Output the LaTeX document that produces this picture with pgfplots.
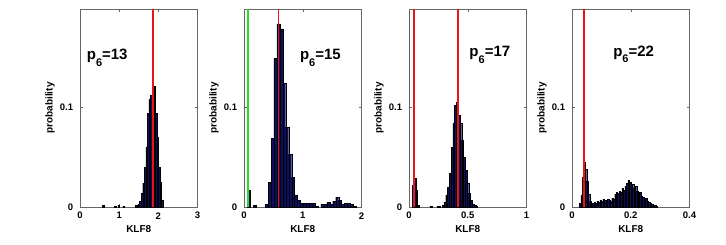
\documentclass[border=0pt]{standalone}
\usepackage{fontspec}
\setmainfont{Liberation Sans}
\usepackage{pgfplots}
\pgfplotsset{compat=1.18}
\definecolor{histfill}{RGB}{15,15,95}
\definecolor{mred}{RGB}{235,20,20}
\definecolor{mgreen}{RGB}{40,220,40}
\pgfplotsset{
  panel/.style={
    scale only axis, width=117.5pt, height=198pt,
    anchor=south west,
    ymin=0, ymax=0.198,
    ytick={0,0.1}, yticklabels={0,0.1},
    tick align=inside, major tick length=3pt,
    axis line style={black!60}, every tick/.style={black!60},
    tick label style={font=\fontsize{9.5}{10}\selectfont\bfseries, inner sep=0pt},
    xticklabel style={anchor=center, yshift=-8.7pt},
    yticklabel style={anchor=east, xshift=-6.7pt},
    label style={font=\fontsize{10}{12}\selectfont\bfseries},
    xlabel={KLF8}, ylabel={probability},
    xlabel style={at={(axis description cs:0.5,-0.111)}, anchor=center},
    ylabel style={at={(axis description cs:-0.255,0.5)}, anchor=center},
  },
  hist/.style={ybar, fill=histfill, draw=black, line width=0.15pt},
  vline/.style={draw=#1, line width=1.6pt, no marks, line cap=butt, forget plot},
}
\tikzset{ann/.style={anchor=base west, inner sep=0pt, font=\fontsize{15}{15}\selectfont\bfseries}}
\newcommand{\psub}[1]{p\raisebox{-6.5pt}{\fontsize{11}{11}\selectfont #1}}
\begin{document}
\begin{tikzpicture}
\useasboundingbox (0pt,0pt) rectangle (726pt,244pt);

% Panel 1
\begin{axis}[panel, at={(80pt,37pt)}, xmin=0, xmax=3, xtick={0,1,2,3}, xticklabels={0,1,2,3}]
\addplot[hist, bar width=0.04] coordinates {
(0.59,0.002) (0.89,0.001) (0.99,0.002) (1.11,0.001) (1.43,0.002)
(1.50,0.003) (1.54,0.006) (1.58,0.014) (1.62,0.024) (1.66,0.040)
(1.70,0.060) (1.74,0.094) (1.78,0.108) (1.82,0.112) (1.86,0.117)
(1.90,0.121) (1.94,0.094) (1.98,0.070) (2.02,0.040) (2.06,0.025) (2.10,0.007)
};
\addplot[vline=mred] coordinates {(1.87,0) (1.87,0.198)};
\node[ann] at (axis cs:0.17,0.147) {\psub{6}=13};
\end{axis}

% Panel 2
\begin{axis}[panel, at={(244pt,37pt)}, xmin=0, xmax=2, xtick={0,1,2}, xticklabels={0,1,2}]
\addplot[hist, bar width=0.05] coordinates {
(0.085,0.017) (0.185,0.002) (0.385,0.003) (0.435,0.025) (0.485,0.069)
(0.535,0.149) (0.585,0.183) (0.635,0.178) (0.685,0.124) (0.735,0.080)
(0.785,0.053) (0.835,0.030) (0.885,0.012) (0.935,0.007) (0.985,0.004)
(1.035,0.004) (1.085,0.004) (1.135,0.004) (1.185,0.004) (1.235,0.001)
(1.335,0.003) (1.385,0.003) (1.435,0.005) (1.485,0.003) (1.535,0.006)
(1.585,0.010) (1.635,0.007) (1.685,0.003) (1.735,0.004) (1.785,0.004)
(1.835,0.003) (1.885,0.001)
};
\addplot[vline=mgreen] coordinates {(0.073,0) (0.073,0.198)};
\addplot[vline=mred] coordinates {(0.59,0) (0.59,0.198)};
\node[ann] at (axis cs:0.95,0.147) {\psub{6}=15};
\end{axis}

% Panel 3
\begin{axis}[panel, at={(409pt,37pt)}, xmin=0, xmax=1, xtick={0,0.5,1}, xticklabels={0,0.5,1}]
\addplot[hist, bar width=0.015] coordinates {
(0.035,0.022) (0.050,0.029) (0.065,0.017) (0.080,0.002)
(0.185,0.001) (0.245,0.001) (0.260,0.001)
(0.290,0.002) (0.305,0.005) (0.320,0.012) (0.335,0.020) (0.350,0.034)
(0.365,0.060) (0.380,0.084) (0.395,0.102) (0.410,0.105) (0.425,0.092)
(0.440,0.084) (0.455,0.067) (0.470,0.050) (0.485,0.037) (0.500,0.024)
(0.515,0.014) (0.530,0.007) (0.545,0.003) (0.560,0.002) (0.575,0.001)
};
\addplot[vline=mred] coordinates {(0.043,0) (0.043,0.198)};
\addplot[vline=mred] coordinates {(0.415,0) (0.415,0.198)};
\node[ann] at (axis cs:0.513,0.150) {\psub{6}=17};
\end{axis}

% Panel 4
\begin{axis}[panel, at={(572pt,37pt)}, xmin=0, xmax=0.4, xtick={0,0.2,0.4}, xticklabels={0,0.2,0.4}]
\addplot[hist, bar width=0.005] coordinates {
(0.0275,0.004) (0.0325,0.012) (0.0375,0.030) (0.0425,0.045) (0.0475,0.038)
(0.0525,0.026) (0.0575,0.013) (0.0625,0.006) (0.0675,0.003) (0.0725,0.004)
(0.0775,0.005) (0.0825,0.004) (0.0875,0.006) (0.0925,0.005) (0.0975,0.007)
(0.1025,0.006) (0.1075,0.008) (0.1125,0.007) (0.1175,0.006) (0.1225,0.008)
(0.1275,0.007) (0.1325,0.006) (0.1375,0.009) (0.1425,0.008) (0.1475,0.013)
(0.1525,0.015) (0.1575,0.014) (0.1625,0.016) (0.1675,0.015) (0.1725,0.019)
(0.1775,0.017) (0.1825,0.021) (0.1875,0.024) (0.1925,0.027) (0.1975,0.025)
(0.2025,0.022) (0.2075,0.023) (0.2125,0.019) (0.2175,0.021) (0.2225,0.016)
(0.2275,0.014) (0.2325,0.015) (0.2375,0.011) (0.2425,0.010) (0.2475,0.008)
(0.2525,0.009) (0.2575,0.006) (0.2625,0.005) (0.2675,0.004) (0.2725,0.003)
(0.2775,0.002) (0.2825,0.002) (0.2875,0.001)
};
\addplot[vline=mred] coordinates {(0.041,0) (0.041,0.198)};
\node[ann] at (axis cs:0.14,0.151) {\psub{6}=22};
\end{axis}
\end{tikzpicture}
\end{document}
